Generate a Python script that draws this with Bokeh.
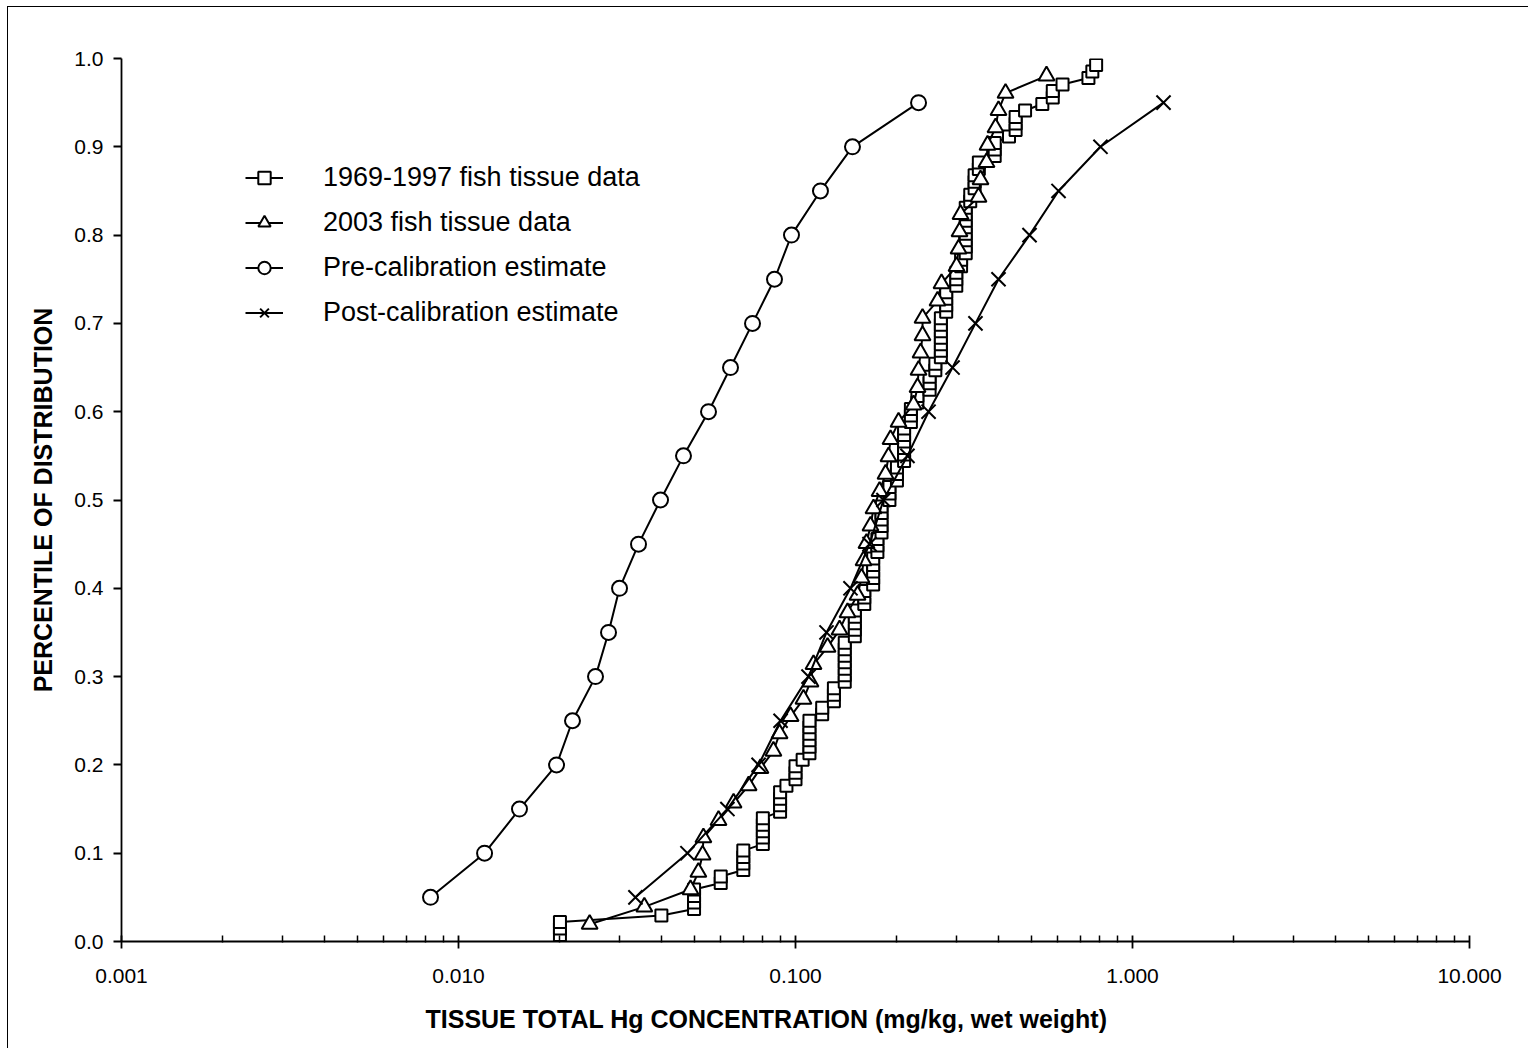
from bokeh.plotting import figure
from bokeh.models import Range1d, FixedTicker, PrintfTickFormatter, Legend, LegendItem, Title
from bokeh.embed import file_html
from bokeh.resources import INLINE

# ---- data ----
# 1969-1997 fish tissue data (mg/kg), sorted
hist_conc = [0.020, 0.020, 0.020, 0.040, 0.050, 0.050, 0.050, 0.050, 0.060, 0.060,
             0.070, 0.070, 0.070, 0.070, 0.080, 0.080, 0.080, 0.080, 0.080, 0.090,
             0.090, 0.090, 0.090, 0.094, 0.100, 0.100, 0.100, 0.105, 0.110, 0.110,
             0.110, 0.110, 0.110, 0.110, 0.120, 0.120, 0.130, 0.130, 0.130, 0.140,
             0.140, 0.140, 0.140, 0.140, 0.140, 0.140, 0.150, 0.150, 0.150, 0.150,
             0.150, 0.160, 0.160, 0.160, 0.170, 0.170, 0.170, 0.170, 0.170, 0.175,
             0.175, 0.175, 0.180, 0.180, 0.180, 0.180, 0.180, 0.190, 0.190, 0.190,
             0.200, 0.200, 0.200, 0.210, 0.210, 0.210, 0.210, 0.210, 0.210, 0.220,
             0.220, 0.220, 0.230, 0.230, 0.250, 0.250, 0.250, 0.260, 0.260, 0.270,
             0.270, 0.270, 0.270, 0.270, 0.270, 0.270, 0.280, 0.280, 0.280, 0.280,
             0.300, 0.300, 0.300, 0.310, 0.310, 0.320, 0.320, 0.320, 0.320, 0.320,
             0.320, 0.320, 0.320, 0.330, 0.330, 0.340, 0.340, 0.340, 0.350, 0.350,
             0.390, 0.390, 0.390, 0.430, 0.450, 0.450, 0.450, 0.480, 0.540, 0.580,
             0.580, 0.620, 0.740, 0.760, 0.780]

# 2003 fish tissue data (mg/kg), sorted
d2003_conc = [0.0245, 0.0356, 0.0488, 0.0515, 0.0530, 0.0533, 0.0591, 0.0655, 0.0726, 0.0787,
              0.0860, 0.0897, 0.0967, 0.1056, 0.1108, 0.1131, 0.1245, 0.1351, 0.1427, 0.1528,
              0.1570, 0.1592, 0.1624, 0.1669, 0.1704, 0.1776, 0.1850, 0.1888, 0.1914, 0.2022,
              0.2240, 0.2302, 0.2318, 0.2350, 0.2382, 0.2382, 0.2639, 0.2712, 0.3005, 0.3047,
              0.3067, 0.3088, 0.3492, 0.3540, 0.3688, 0.3714, 0.3922, 0.4003, 0.4200, 0.5557]

# model estimates at fixed percentiles
est_pct = [0.05, 0.10, 0.15, 0.20, 0.25, 0.30, 0.35, 0.40, 0.45, 0.50,
           0.55, 0.60, 0.65, 0.70, 0.75, 0.80, 0.85, 0.90, 0.95]
pre_conc = [0.00826, 0.01195, 0.01517, 0.01954, 0.02179, 0.02550, 0.02787, 0.03005, 0.03421, 0.03976,
            0.04652, 0.05519, 0.06414, 0.07455, 0.08663, 0.09730, 0.1186, 0.1476, 0.2318]
post_conc = [0.0335, 0.0478, 0.0628, 0.0777, 0.0903, 0.1093, 0.1236, 0.1456, 0.1658, 0.1824,
             0.2149, 0.2482, 0.2924, 0.3420, 0.4003, 0.4948, 0.6032, 0.8035, 1.236]

series_names = ["1969-1997 fish tissue data", "2003 fish tissue data",
                "Pre-calibration estimate", "Post-calibration estimate"]

x_ticks = [0.001, 0.01, 0.1, 1.0, 10.0]
y_ticks = [0.0, 0.1, 0.2, 0.3, 0.4, 0.5, 0.6, 0.7, 0.8, 0.9, 1.0]

# empirical percentile (plotting position rank/(n+1)) of the sorted observations
hist_pct = [(i + 1) / (len(hist_conc) + 1) for i in range(len(hist_conc))]
d2003_pct = [(i + 1) / (len(d2003_conc) + 1) for i in range(len(d2003_conc))]

FONT = "Liberation Sans"

p = figure(width=1521, height=1042, x_axis_type="log",
           x_range=Range1d(0.001, 10), y_range=Range1d(0, 1),
           output_backend="svg", toolbar_location=None,
           min_border_left=113, min_border_right=60, min_border_top=51, min_border_bottom=108)
p.styles = {"border-left": "1px solid black", "border-top": "1px solid black",
            "margin-left": "7px", "margin-top": "6px"}
p.outline_line_color = None
p.xgrid.visible = False
p.ygrid.visible = False
p.background_fill_color = "white"
p.border_fill_color = "white"

minor = []
for d in [0.001, 0.01, 0.1, 1.0]:
    for k in range(2, 10):
        minor.append(d * k)
p.xaxis.ticker = FixedTicker(ticks=x_ticks, minor_ticks=minor)
p.xaxis.formatter = PrintfTickFormatter(format="%.3f")
p.yaxis.ticker = FixedTicker(ticks=y_ticks, minor_ticks=[])
p.yaxis.formatter = PrintfTickFormatter(format="%.1f")

for ax in (p.xaxis[0], p.yaxis[0]):
    ax.axis_line_color = "black"
    ax.axis_line_width = 1.8
    ax.major_tick_line_color = "black"
    ax.major_tick_line_width = 1.8
    ax.minor_tick_line_color = "black"
    ax.minor_tick_line_width = 1.5
    ax.major_label_text_font = FONT
    ax.major_label_text_font_size = "21px"
    ax.major_label_text_color = "black"

p.xaxis.major_tick_in = 6
p.xaxis.major_tick_out = 7
p.xaxis.minor_tick_in = 6
p.xaxis.minor_tick_out = 1
p.xaxis.major_label_standoff = 20
p.yaxis.major_tick_in = 0
p.yaxis.major_tick_out = 8
p.yaxis.major_label_standoff = 10

p.yaxis.axis_label = "PERCENTILE OF DISTRIBUTION"
p.yaxis.axis_label_text_font = FONT
p.yaxis.axis_label_text_font_style = "bold"
p.yaxis.axis_label_text_font_size = "25px"
p.yaxis.axis_label_text_color = "black"
p.yaxis.axis_label_standoff = 14

xt = Title(text="TISSUE TOTAL Hg CONCENTRATION (mg/kg, wet weight)",
           align="left", offset=304, standoff=34,
           text_font=FONT, text_font_style="bold", text_font_size="25px",
           text_color="black")
p.add_layout(xt, "below")

LW = 2.0
l1 = p.line(hist_conc, hist_pct, line_color="black", line_width=LW)
s1 = p.scatter(hist_conc, hist_pct, marker="square", size=12, fill_color="white",
               line_color="black", line_width=LW)
l2 = p.line(d2003_conc, d2003_pct, line_color="black", line_width=LW)
s2 = p.scatter(d2003_conc, d2003_pct, marker="triangle", size=16, fill_color="white",
               line_color="black", line_width=LW)
l3 = p.line(pre_conc, est_pct, line_color="black", line_width=LW)
s3 = p.scatter(pre_conc, est_pct, marker="circle", size=15, fill_color="white",
               line_color="black", line_width=LW)
l4 = p.line(post_conc, est_pct, line_color="black", line_width=LW)
s4 = p.scatter(post_conc, est_pct, marker="x", size=20, fill_color="white",
               line_color="black", line_width=LW)

legend = Legend(items=[LegendItem(label=series_names[0], renderers=[l1, s1]),
                       LegendItem(label=series_names[1], renderers=[l2, s2]),
                       LegendItem(label=series_names[2], renderers=[l3, s3]),
                       LegendItem(label=series_names[3], renderers=[l4, s4])],
                location=(124, 613), padding=0, margin=0, spacing=14,
                glyph_width=38, glyph_height=31, label_height=31, label_standoff=40,
                label_text_font=FONT, label_text_font_size="27px", label_text_color="black",
                border_line_alpha=0, background_fill_alpha=0)
p.add_layout(legend)

open("out.html", "w").write(file_html(p, INLINE))
